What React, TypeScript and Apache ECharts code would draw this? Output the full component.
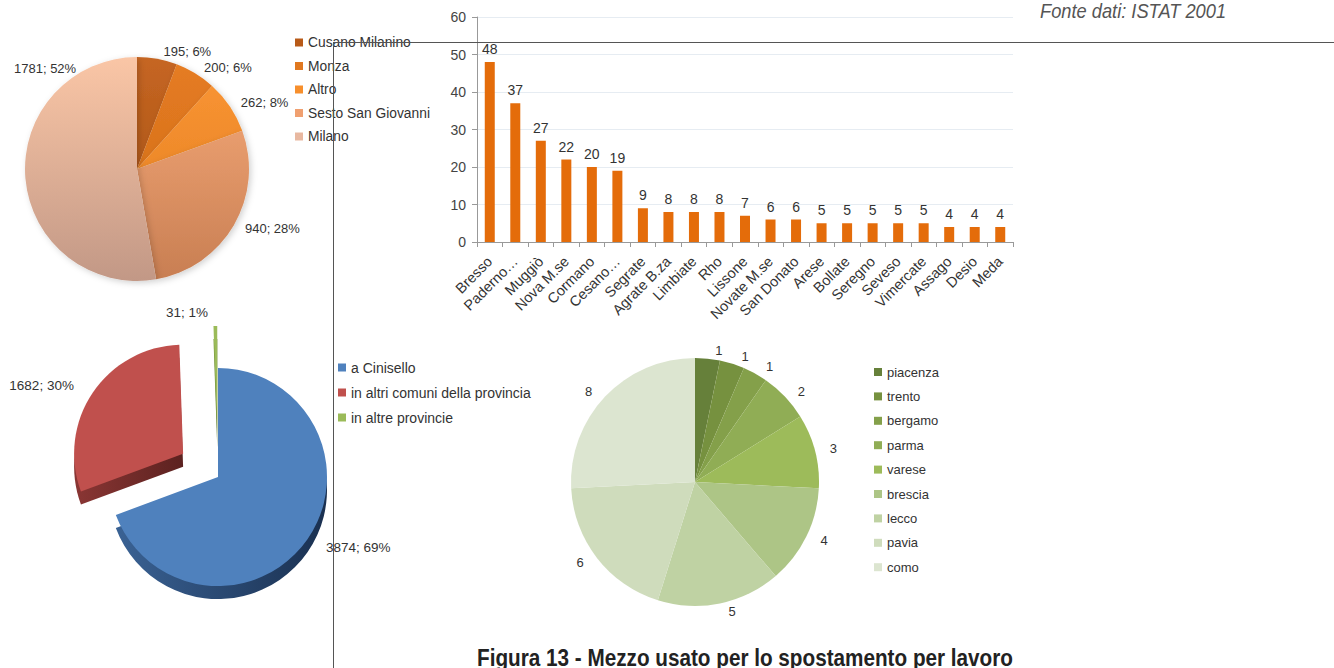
import React, { useEffect, useRef } from "react";
import * as echarts from "echarts";

const cityNames = ["Cusano Milanino", "Monza", "Altro", "Sesto San Giovanni", "Milano"];
const cityValues = [195, 200, 262, 940, 1781];
const cityTop = ["#c66622", "#e67c22", "#fb9634", "#f8ac7c", "#fac6a6"];
const cityBottom = ["#9e4c12", "#cc6a18", "#e07c20", "#c87e52", "#c29886"];
const cityLegend = ["#b85a18", "#e07820", "#f78f2c", "#f0a070", "#e8b8a0"];

const barCats = [
  "Bresso", "Paderno…", "Muggiò", "Nova M.se", "Cormano", "Cesano…", "Segrate",
  "Agrate B.za", "Limbiate", "Rho", "Lissone", "Novate M.se", "San Donato", "Arese",
  "Bollate", "Seregno", "Seveso", "Vimercate", "Assago", "Desio", "Meda",
];
const barValues = [48, 37, 27, 22, 20, 19, 9, 8, 8, 8, 7, 6, 6, 5, 5, 5, 5, 5, 4, 4, 4];
const yTicks = { min: 0, max: 60, interval: 10 };

const destNames = ["a Cinisello", "in altri comuni della provincia", "in altre provincie"];
const destValues = [3874, 1682, 31];
const destColors = ["#4f81bd", "#c0504d", "#9bbb59"];
const destDepthA = ["#3a6294", "#8a3634", "#78983c"];
const destDepthB = ["#1a3050", "#5c2220", "#506a24"];

const provNames = ["piacenza", "trento", "bergamo", "parma", "varese", "brescia", "lecco", "pavia", "como"];
const provValues = [1, 1, 1, 2, 3, 4, 5, 6, 8];
const provColors = ["#66803a", "#76913f", "#84a04a", "#90ad55", "#9dbb5a", "#adc586", "#bfd2a3", "#cfdcbc", "#dce5d0"];

const FONT = "'Liberation Sans', Arial, sans-serif";

export default function App() {
  const ref = useRef<HTMLDivElement>(null);
  useEffect(() => {
    const chart = echarts.init(ref.current!, null, { renderer: "svg" });
    const txt = { fontFamily: FONT, fontSize: 13, color: "#333" };
    const txt14 = { fontFamily: FONT, fontSize: 14, color: "#333" };
    chart.setOption({
      animation: false,
      backgroundColor: "#fff",
      textStyle: { fontFamily: FONT },
      legend: [
        {
          orient: "vertical", left: 295, top: 35.5, padding: 0, itemWidth: 8, itemHeight: 8, itemGap: 9.5,
          textStyle: { ...txt, fontSize: 13.8 }, icon: "rect", selectedMode: false,
          data: cityNames.map((n, i) => ({ name: n, itemStyle: { color: cityLegend[i] } })),
        },
        {
          orient: "vertical", left: 338, top: 360.5, padding: 0, itemWidth: 8, itemHeight: 8, itemGap: 11,
          textStyle: txt14, icon: "rect", selectedMode: false,
          data: destNames.map((n, i) => ({ name: n, itemStyle: { color: destColors[i] } })),
        },
        {
          orient: "vertical", left: 874, top: 365.5, padding: 0, itemWidth: 8, itemHeight: 8, itemGap: 11.4,
          textStyle: txt, icon: "rect", selectedMode: false,
          data: provNames.map((n, i) => ({ name: n, itemStyle: { color: provColors[i] } })),
        },
      ],
      grid: { left: 477, top: 17, width: 536, height: 225 },
      xAxis: {
        type: "category", data: barCats,
        axisLine: { lineStyle: { color: "#999" } },
        axisTick: { show: true, alignWithLabel: false, length: 5, lineStyle: { color: "#999" } },
        axisLabel: { rotate: 45, interval: 0, margin: 17, ...txt, fontSize: 14.5 },
      },
      yAxis: {
        type: "value", ...yTicks,
        axisLine: { show: true, lineStyle: { color: "#999" } },
        axisTick: { show: true, length: 5, lineStyle: { color: "#999" } },
        axisLabel: { margin: 11, ...txt14, color: "#444" },
        splitLine: { lineStyle: { color: "#e6ecf2" } },
      },
      series: [
        {
          type: "bar", data: barValues, barWidth: 10,
          itemStyle: { color: "#e46c0a" },
          label: { show: true, position: "top", distance: 6, ...txt14 },
        },
        {
          type: "pie", center: [137, 169], radius: 112, startAngle: 90, clockwise: true,
          percentPrecision: 0, avoidLabelOverlap: false,
          data: cityNames.map((n, i) => ({
            name: n, value: cityValues[i],
            itemStyle: {
              color: new echarts.graphic.LinearGradient(0, 57, 0, 281, [
                { offset: 0, color: cityTop[i] }, { offset: 1, color: cityBottom[i] },
              ], true),
            },
          })),
          itemStyle: { shadowBlur: 6, shadowOffsetX: 2, shadowOffsetY: 2, shadowColor: "rgba(0,0,0,0.18)" },
          label: { show: true, position: "outside", formatter: "{c}; {d}%", ...txt },
          labelLine: { show: false, length: 7, length2: 0 },
          labelLayout: (p: any) => (p.dataIndex === 4 ? { x: 14, y: 68, align: "left", verticalAlign: "middle" } : {}),
          emphasis: { disabled: true },
        },
        {
          type: "pie", center: [218, 490], radius: 109, startAngle: 90, z: 1, silent: true,
          selectedMode: "multiple", selectedOffset: 42,
          data: destNames.map((n, i) => ({
            name: n, value: destValues[i], selected: i > 0,
            itemStyle: {
              color: new echarts.graphic.LinearGradient(0, 0, 1, 0, [
                { offset: 0, color: destDepthA[i] }, { offset: 1, color: destDepthB[i] },
              ]),
            },
          })),
          label: { show: false }, labelLine: { show: false },
          emphasis: { disabled: true },
        },
        {
          type: "pie", center: [218, 477], radius: 109, startAngle: 90, z: 2,
          selectedMode: "multiple", selectedOffset: 42, percentPrecision: 0, avoidLabelOverlap: false,
          data: destNames.map((n, i) => ({
            name: n, value: destValues[i], selected: i > 0,
            itemStyle: { color: destColors[i] },
          })),
          label: { show: true, position: "outside", formatter: "{c}; {d}%", ...txt, fontSize: 13.5 },
          labelLine: { show: false, length: 14, length2: 2 },
          emphasis: { disabled: true },
        },
        {
          type: "pie", center: [695, 482], radius: 124, startAngle: 90, avoidLabelOverlap: false,
          data: provNames.map((n, i) => ({ name: n, value: provValues[i], itemStyle: { color: provColors[i] } })),
          label: { show: true, position: "outside", formatter: "{c}", ...txt },
          labelLine: { show: false, length: 8, length2: 2 },
          emphasis: { disabled: true },
        },
      ],
      graphic: [
        { type: "line", z: 100, shape: { x1: 333, y1: 42.5, x2: 1334, y2: 42.5 }, style: { stroke: "#555", lineWidth: 1 } },
        { type: "line", z: 100, shape: { x1: 333.5, y1: 42, x2: 333.5, y2: 668 }, style: { stroke: "#555", lineWidth: 1 } },
        {
          type: "text", z: 100, x: 1040, y: 0, scaleX: 0.87,
          style: { text: "Fonte dati: ISTAT 2001", fontFamily: FONT, fontStyle: "italic", fontSize: 21, fill: "#555", textVerticalAlign: "top" },
        },
        {
          type: "text", z: 100, x: 745, y: 647, scaleX: 0.9,
          style: { text: "Figura 13 - Mezzo usato per lo spostamento per lavoro", fontFamily: FONT, fontWeight: "bold", fontSize: 23, fill: "#222", textAlign: "center", textVerticalAlign: "top" },
        },
      ],
    });
    return () => chart.dispose();
  }, []);
  return <div ref={ref} style={{ position: "fixed", left: 0, top: 0, width: 1334, height: 668 }} />;
}
